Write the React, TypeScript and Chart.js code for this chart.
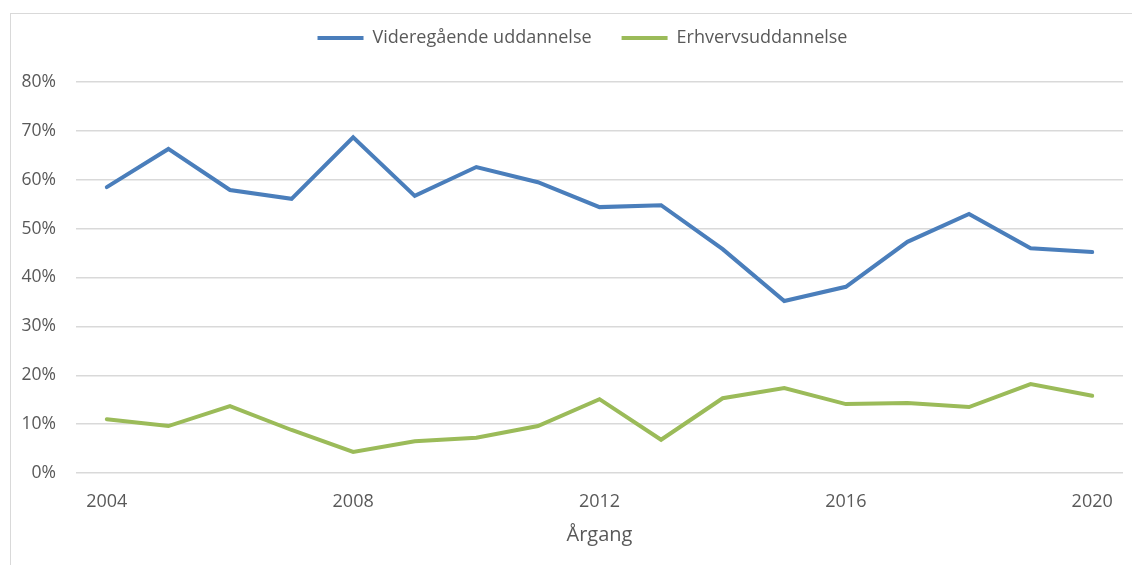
import React, { useEffect, useRef } from "react";
import { Chart, registerables } from "chart.js";

Chart.register(...registerables);

const years: string[] = [
  "2004", "2005", "2006", "2007", "2008", "2009", "2010", "2011", "2012",
  "2013", "2014", "2015", "2016", "2017", "2018", "2019", "2020",
];

const videregaaende: number[] = [
  58.5, 66.3, 57.9, 56.1, 68.7, 56.7, 62.6, 59.5, 54.4,
  54.8, 45.8, 35.2, 38.1, 47.3, 53.0, 46.0, 45.2,
];

const erhvervs: number[] = [
  11.0, 9.6, 13.7, 8.8, 4.3, 6.5, 7.2, 9.6, 15.1,
  6.8, 15.3, 17.4, 14.1, 14.3, 13.5, 18.2, 15.8,
];

const seriesNames: string[] = ["Videregående uddannelse", "Erhvervsuddannelse"];
const xTitle = "Årgang";

const FONT = "'Open Sans', sans-serif";
const TEXT = "#595959";

const legendShift = {
  id: "legendShift",
  afterLayout(chart: any) {
    if (chart.legend) {
      chart.legend.left += 11;
      chart.legend.right += 11;
    }
  },
};

export default function App() {
  const ref = useRef<HTMLCanvasElement | null>(null);

  useEffect(() => {
    document.body.style.overflow = "hidden";
    const ctx = ref.current!.getContext("2d")!;
    const chart = new Chart(ctx, {
      type: "line",
      data: {
        labels: years,
        datasets: [
          {
            label: seriesNames[0],
            data: videregaaende,
            borderColor: "#4A7EBB",
            backgroundColor: "#4A7EBB",
            borderWidth: 4,
            pointRadius: 0,
            tension: 0,
            borderJoinStyle: "miter",
            borderCapStyle: "round",
          },
          {
            label: seriesNames[1],
            data: erhvervs,
            borderColor: "#9BBB59",
            backgroundColor: "#9BBB59",
            borderWidth: 4,
            pointRadius: 0,
            tension: 0,
            borderJoinStyle: "miter",
            borderCapStyle: "round",
          },
        ],
      },
      plugins: [legendShift],
      options: {
        animation: false,
        responsive: false,
        maintainAspectRatio: false,
        layout: { padding: { left: 20, right: 9, top: -1, bottom: 18 } },
        plugins: {
          tooltip: { enabled: false },
          legend: {
            position: "top",
            labels: {
              usePointStyle: true,
              pointStyle: "line",
              pointStyleWidth: 46,
              boxHeight: 4,
              color: TEXT,
              font: { family: FONT, size: 18 },
              padding: 30,
            },
          },
          subtitle: {
            display: true,
            text: "",
            position: "top",
            weight: 500,
            font: { size: 10 },
            padding: { top: 0, bottom: 13 },
          } as any,
        },
        scales: {
          x: {
            type: "category",
            offset: true,
            grid: { display: false, drawTicks: false },
            border: { display: false },
            afterFit: (s: any) => {
              s.height = 74;
            },
            ticks: {
              autoSkip: false,
              maxRotation: 0,
              padding: 18,
              color: TEXT,
              font: { family: FONT, size: 18 },
              callback: (_v: any, i: number) => (i % 4 === 0 ? years[i] : ""),
            },
            title: {
              display: true,
              text: xTitle,
              color: TEXT,
              font: { family: FONT, size: 20 },
              padding: { top: 0, bottom: 0 },
            },
          },
          y: {
            min: 0,
            max: 80,
            afterFit: (s: any) => {
              s.width = 56;
            },
            grid: { color: "#D9D9D9", lineWidth: 1.5, drawTicks: false },
            border: { display: false },
            ticks: {
              stepSize: 10,
              padding: 20,
              color: TEXT,
              font: { family: FONT, size: 17.5 },
              callback: (v: any) => Math.round(Number(v)) + "%",
            },
          },
        },
      },
    });
    return () => chart.destroy();
  }, []);

  return (
    <div>
      <div
        style={{
          position: "fixed",
          left: 10,
          top: 13,
          width: 1200,
          height: 600,
          border: "1px solid #D9D9D9",
          boxSizing: "border-box",
        }}
      />
      <canvas
        ref={ref}
        width={1132}
        height={565}
        style={{ position: "fixed", left: 0, top: 0, width: 1132, height: 565 }}
      />
    </div>
  );
}
